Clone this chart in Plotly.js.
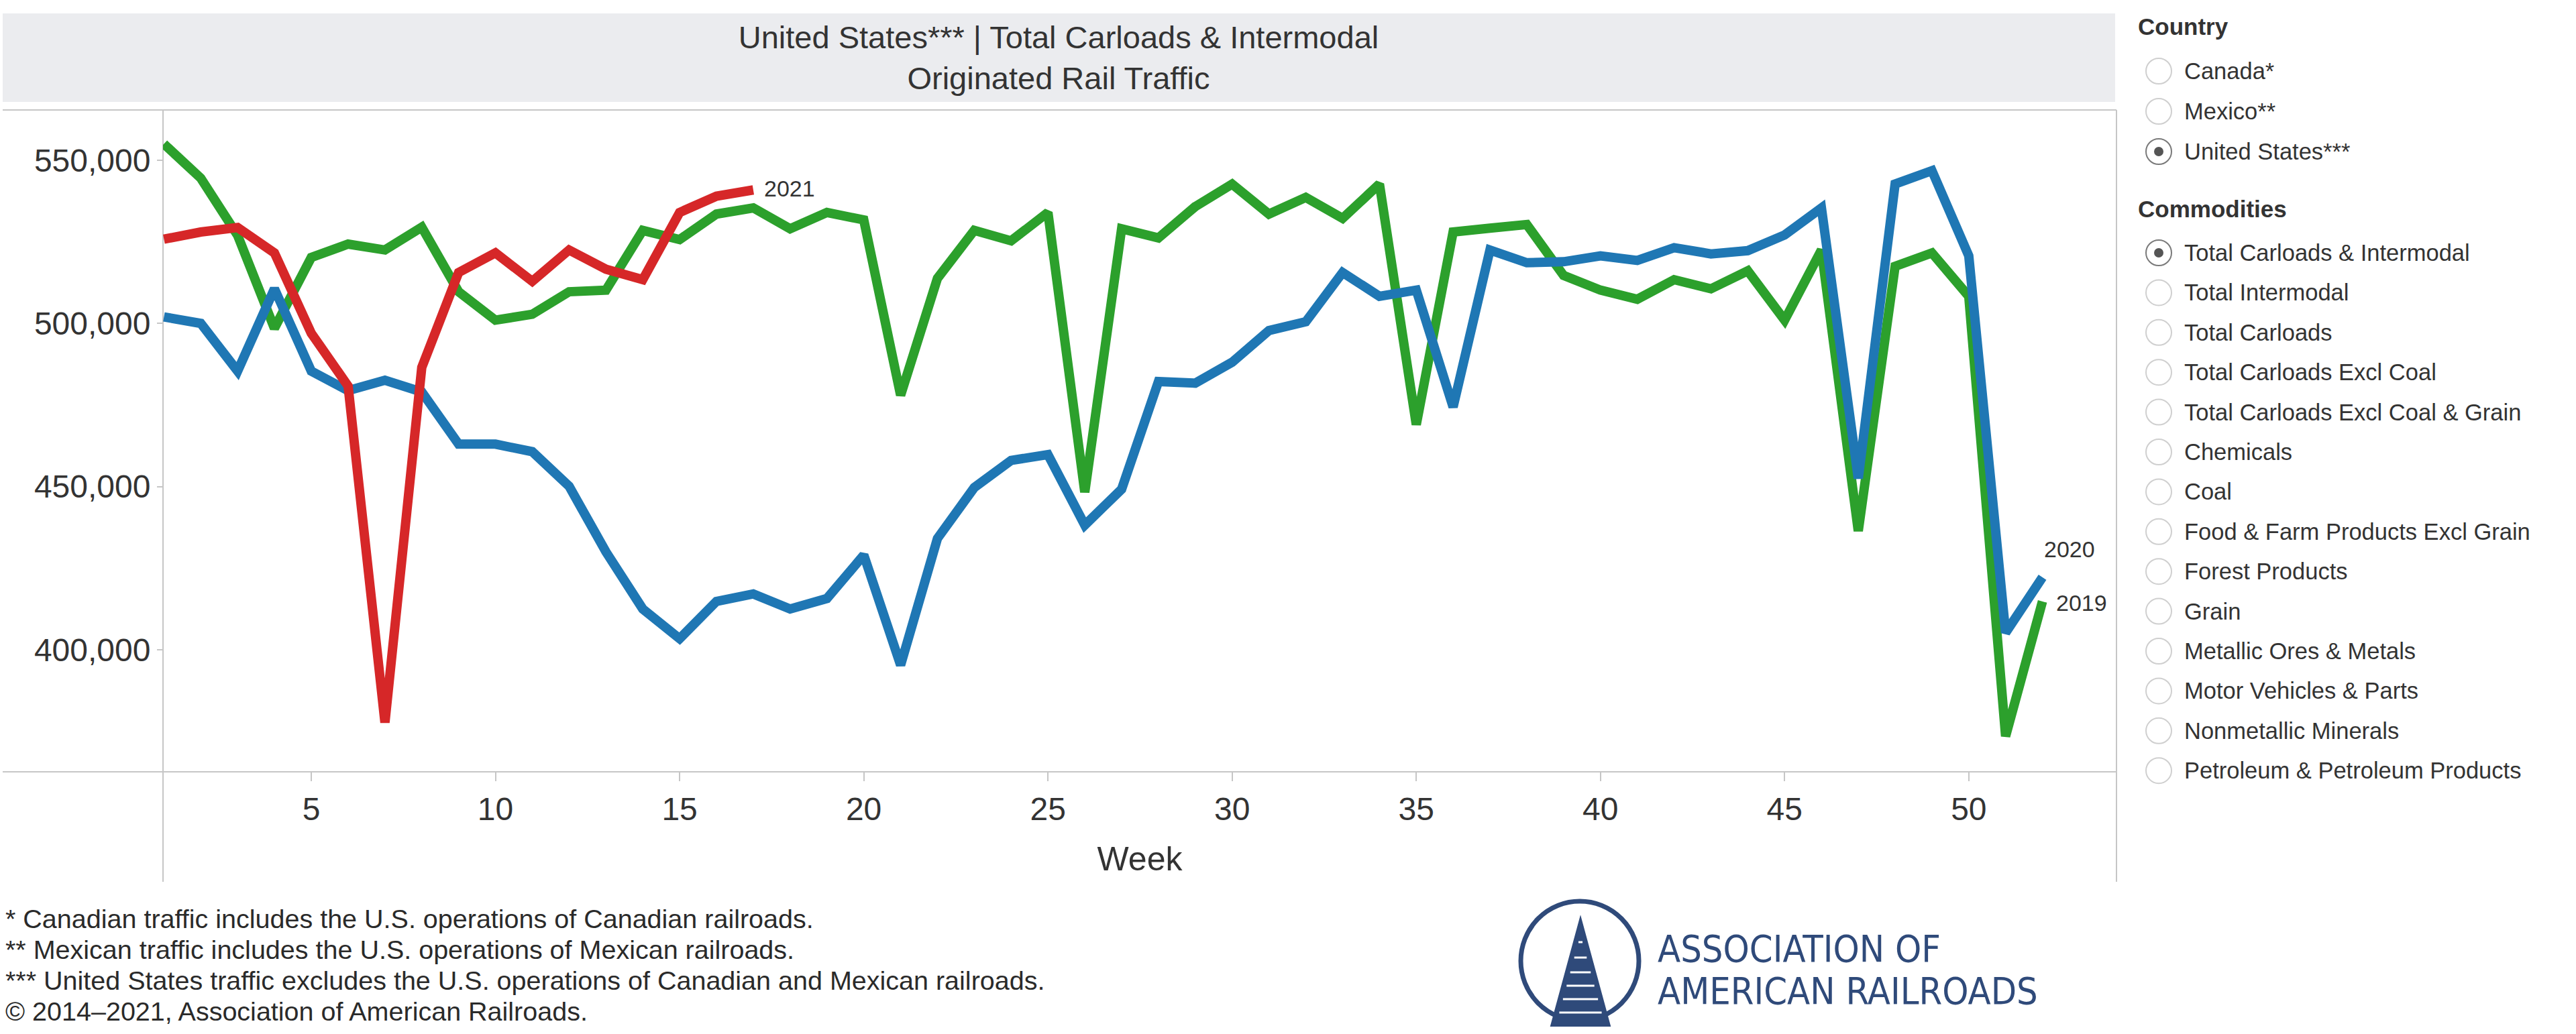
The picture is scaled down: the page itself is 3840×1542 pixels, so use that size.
<!DOCTYPE html>
<html>
<head>
<meta charset="utf-8">
<script src="https://cdn.plot.ly/plotly-3.0.1.min.js"></script>
<style>
  html, body { margin: 0; padding: 0; background: #ffffff; }
  #chart { width: 3840px; height: 1542px; }
</style>
</head>
<body>
<div id="chart"></div>
<script>
// ---------------- DATA ----------------
const weeks = [1,2,3,4,5,6,7,8,9,10,11,12,13,14,15,16,17,18,19,20,21,22,23,24,25,26,
               27,28,29,30,31,32,33,34,35,36,37,38,39,40,41,42,43,44,45,46,47,48,49,50,51,52];

const carloads2019 = [555000,544500,527000,498500,520200,524300,522500,529500,509700,501000,
                      502800,509700,510200,528500,525700,533500,535400,529000,534000,531700,
                      478000,513800,528500,525300,534000,448300,529000,526200,535800,542700,
                      533500,538600,532200,542700,469000,528000,529200,530300,514700,510200,
                      507400,513400,510600,516100,501000,522500,436400,517500,521600,508300,
                      373500,414800];

const carloads2020 = [502000,500000,485400,510600,485400,479400,482600,479000,463000,463000,
                      460700,450100,430000,412500,403400,414800,417100,412500,415700,429000,
                      395300,434100,449700,458000,459800,438200,449200,482200,481700,488100,
                      497800,500500,515600,508300,510200,474400,522500,518600,518900,520700,
                      519300,523200,521300,522300,527100,535400,452500,542700,546800,520700,
                      405200,422200];

const weeks2021 = [1,2,3,4,5,6,7,8,9,10,11,12,13,14,15,16,17];
const carloads2021 = [525800,528000,529400,521600,497000,480800,377700,486500,515600,521600,
                      512900,522500,516600,513400,534000,539000,540900];

const seriesNames = ['2019', '2020', '2021'];
const xTickVals = [5,10,15,20,25,30,35,40,45,50];
const yTickVals = [400000,450000,500000,550000];

const chartTitle = 'United States*** | Total Carloads & Intermodal<br>Originated Rail Traffic';
const xTitle = 'Week';

const countries = ['Canada*', 'Mexico**', 'United States***'];
const selectedCountry = 'United States***';
const commodities = ['Total Carloads & Intermodal','Total Intermodal','Total Carloads',
  'Total Carloads Excl Coal','Total Carloads Excl Coal & Grain','Chemicals','Coal',
  'Food & Farm Products Excl Grain','Forest Products','Grain','Metallic Ores & Metals',
  'Motor Vehicles & Parts','Nonmetallic Minerals','Petroleum & Petroleum Products'];
const selectedCommodity = 'Total Carloads & Intermodal';

const footnotes = [
  '* Canadian traffic includes the U.S. operations of Canadian railroads.',
  '** Mexican traffic includes the U.S. operations of Mexican railroads.',
  '*** United States traffic excludes the U.S. operations of Canadian and Mexican railroads.',
  '\u00A9 2014\u20132021, Association of American Railroads.'
];
const logoLines = ['ASSOCIATION OF', 'AMERICAN RAILROADS'];

// ---------------- LAYOUT HELPERS ----------------
const PL = 243, PR = 3155, PT = 164, PB = 1151;
const px = x => (x - PL) / (PR - PL);
const py = y => (PB - y) / (PB - PT);
const FONT = 'Arial, "Liberation Sans", Helvetica, sans-serif';
const TXT = '#333333';
const AX = '#c6c6c6';
const NAVY = '#2f4a7a';

const colors = { '2019': '#2ca02c', '2020': '#1f77b4', '2021': '#d62728' };
const LW = 14;

const traces = [
  { x: weeks, y: carloads2019, name: seriesNames[0], type: 'scatter', mode: 'lines',
    line: { color: colors['2019'], width: LW, shape: 'linear' }, hoverinfo: 'skip' },
  { x: weeks, y: carloads2020, name: seriesNames[1], type: 'scatter', mode: 'lines',
    line: { color: colors['2020'], width: LW, shape: 'linear' }, hoverinfo: 'skip' },
  { x: weeks2021, y: carloads2021, name: seriesNames[2], type: 'scatter', mode: 'lines',
    line: { color: colors['2021'], width: LW, shape: 'linear' }, hoverinfo: 'skip' }
];

const shapes = [];
const annotations = [];

// title band
shapes.push({ type: 'rect', xref: 'paper', yref: 'paper', x0: px(4), x1: px(3153), y0: py(152), y1: py(20),
  fillcolor: '#ebecef', line: { width: 0 }, layer: 'below' });
// frame lines
const seg = (x0, y0, x1, y1) => shapes.push({ type: 'line', xref: 'paper', yref: 'paper',
  x0: px(x0), y0: py(y0), x1: px(x1), y1: py(y1), line: { color: AX, width: 2 }, layer: 'below' });
seg(4, 164, 3155, 164);
seg(4, 1151, 3155, 1151);
seg(243, 164, 243, 1315);
seg(3155, 164, 3155, 1315);

// end-of-series labels
const endLabel = (xs, ys, text, xshift, yshift) => annotations.push({
  x: xs[xs.length - 1], y: ys[ys.length - 1], xref: 'x', yref: 'y', text: text, showarrow: false,
  xanchor: 'left', yanchor: 'middle', xshift: xshift, yshift: yshift,
  font: { family: FONT, size: 34, color: TXT } });
endLabel(weeks2021, carloads2021, seriesNames[2], 14, 2);
endLabel(weeks, carloads2020, seriesNames[1], 0, 42);
endLabel(weeks, carloads2019, seriesNames[0], 18, -2);

// side panel
const header = (text, y) => annotations.push({ x: px(3185), y: py(y), xref: 'paper', yref: 'paper',
  text: '<b>' + text + '</b>', showarrow: false, xanchor: 'left', yanchor: 'middle',
  font: { family: FONT, size: 35, color: TXT } });
const radio = (text, y, selected) => {
  const cx = 3218, r = 19;
  shapes.push({ type: 'circle', xref: 'paper', yref: 'paper', x0: px(cx - r), x1: px(cx + r),
    y0: py(y + r), y1: py(y - r), fillcolor: '#ffffff',
    line: { color: selected ? '#7a7a7a' : '#cfcfcf', width: 2 } });
  if (selected) {
    const ri = 7;
    shapes.push({ type: 'circle', xref: 'paper', yref: 'paper', x0: px(cx - ri), x1: px(cx + ri),
      y0: py(y + ri), y1: py(y - ri), fillcolor: '#555555', line: { width: 0 } });
  }
  annotations.push({ x: px(3254), y: py(y), xref: 'paper', yref: 'paper', text: text, showarrow: false,
    xanchor: 'left', yanchor: 'middle', font: { family: FONT, size: 34.5, color: TXT } });
};
header('Country', 40);
countries.forEach((c, i) => radio(c, 106 + i * 60, c === selectedCountry));
header('Commodities', 311);
commodities.forEach((c, i) => radio(c, 377 + i * 59.4, c === selectedCommodity));

// footnotes
footnotes.forEach((t, i) => annotations.push({ x: px(6), y: py(1370 + i * 46), xref: 'paper', yref: 'paper',
  text: t, showarrow: false, xanchor: 'left', yanchor: 'middle',
  font: { family: FONT, size: 39.5, color: '#2a2a2a' } }));

// logo
shapes.push({ type: 'circle', xref: 'paper', yref: 'paper', x0: px(2267), x1: px(2443),
  y0: py(1522), y1: py(1344), line: { color: NAVY, width: 7 }, fillcolor: 'rgba(0,0,0,0)' });
const ax = 2356, ay = 1368, by = 1530, hwb = 44;
shapes.push({ type: 'path', xref: 'paper', yref: 'paper',
  path: `M ${px(ax)} ${py(ay)} L ${px(ax - hwb)} ${py(by)} L ${px(ax + hwb)} ${py(by)} Z`,
  fillcolor: NAVY, line: { color: NAVY, width: 2 } });
[1405, 1428, 1450, 1470, 1490, 1510].forEach(yy => {
  const hw = (yy - ay) / (by - ay) * hwb;
  shapes.push({ type: 'line', xref: 'paper', yref: 'paper', x0: px(ax - hw + 7), x1: px(ax + hw - 7),
    y0: py(yy), y1: py(yy), line: { color: '#ffffff', width: 3 } });
});
logoLines.forEach((t, i) => annotations.push({ x: px(2469), y: py(1414 + i * 63), xref: 'paper', yref: 'paper',
  text: t, showarrow: false, xanchor: 'left', yanchor: 'middle',
  font: { family: '"Liberation Sans Narrow", "Arial Narrow", "DejaVu Sans Condensed", Arial, sans-serif',
          size: 55.5, color: NAVY } }));

const layout = {
  width: 3840, height: 1542,
  paper_bgcolor: '#ffffff', plot_bgcolor: '#ffffff',
  margin: { l: PL, r: 3840 - PR, t: PT, b: 1542 - PB, pad: 0 },
  showlegend: false,
  font: { family: FONT, color: TXT },
  title: { text: chartTitle, xref: 'container', yref: 'container', x: 1578 / 3840, xanchor: 'center',
           y: 1 - 72 / 1542, yanchor: 'top', font: { family: FONT, size: 47, color: TXT } },
  xaxis: {
    range: [0.975, 54.01], tickvals: xTickVals, ticks: 'outside', ticklen: 13, tickwidth: 2, tickcolor: AX,
    showgrid: false, zeroline: false, showline: false,
    tickfont: { family: FONT, size: 48, color: TXT },
    title: { text: xTitle, font: { family: FONT, size: 50, color: TXT }, standoff: 31 }
  },
  yaxis: {
    range: [362600, 565400], tickvals: yTickVals, tickformat: ',d', ticks: 'outside', ticklen: 8, tickwidth: 2,
    tickcolor: AX, showgrid: false, zeroline: false, showline: false,
    tickfont: { family: FONT, size: 48, color: TXT }
  },
  shapes: shapes,
  annotations: annotations
};

Plotly.newPlot('chart', traces, layout, { displayModeBar: false, staticPlot: true });
</script>
</body>
</html>
